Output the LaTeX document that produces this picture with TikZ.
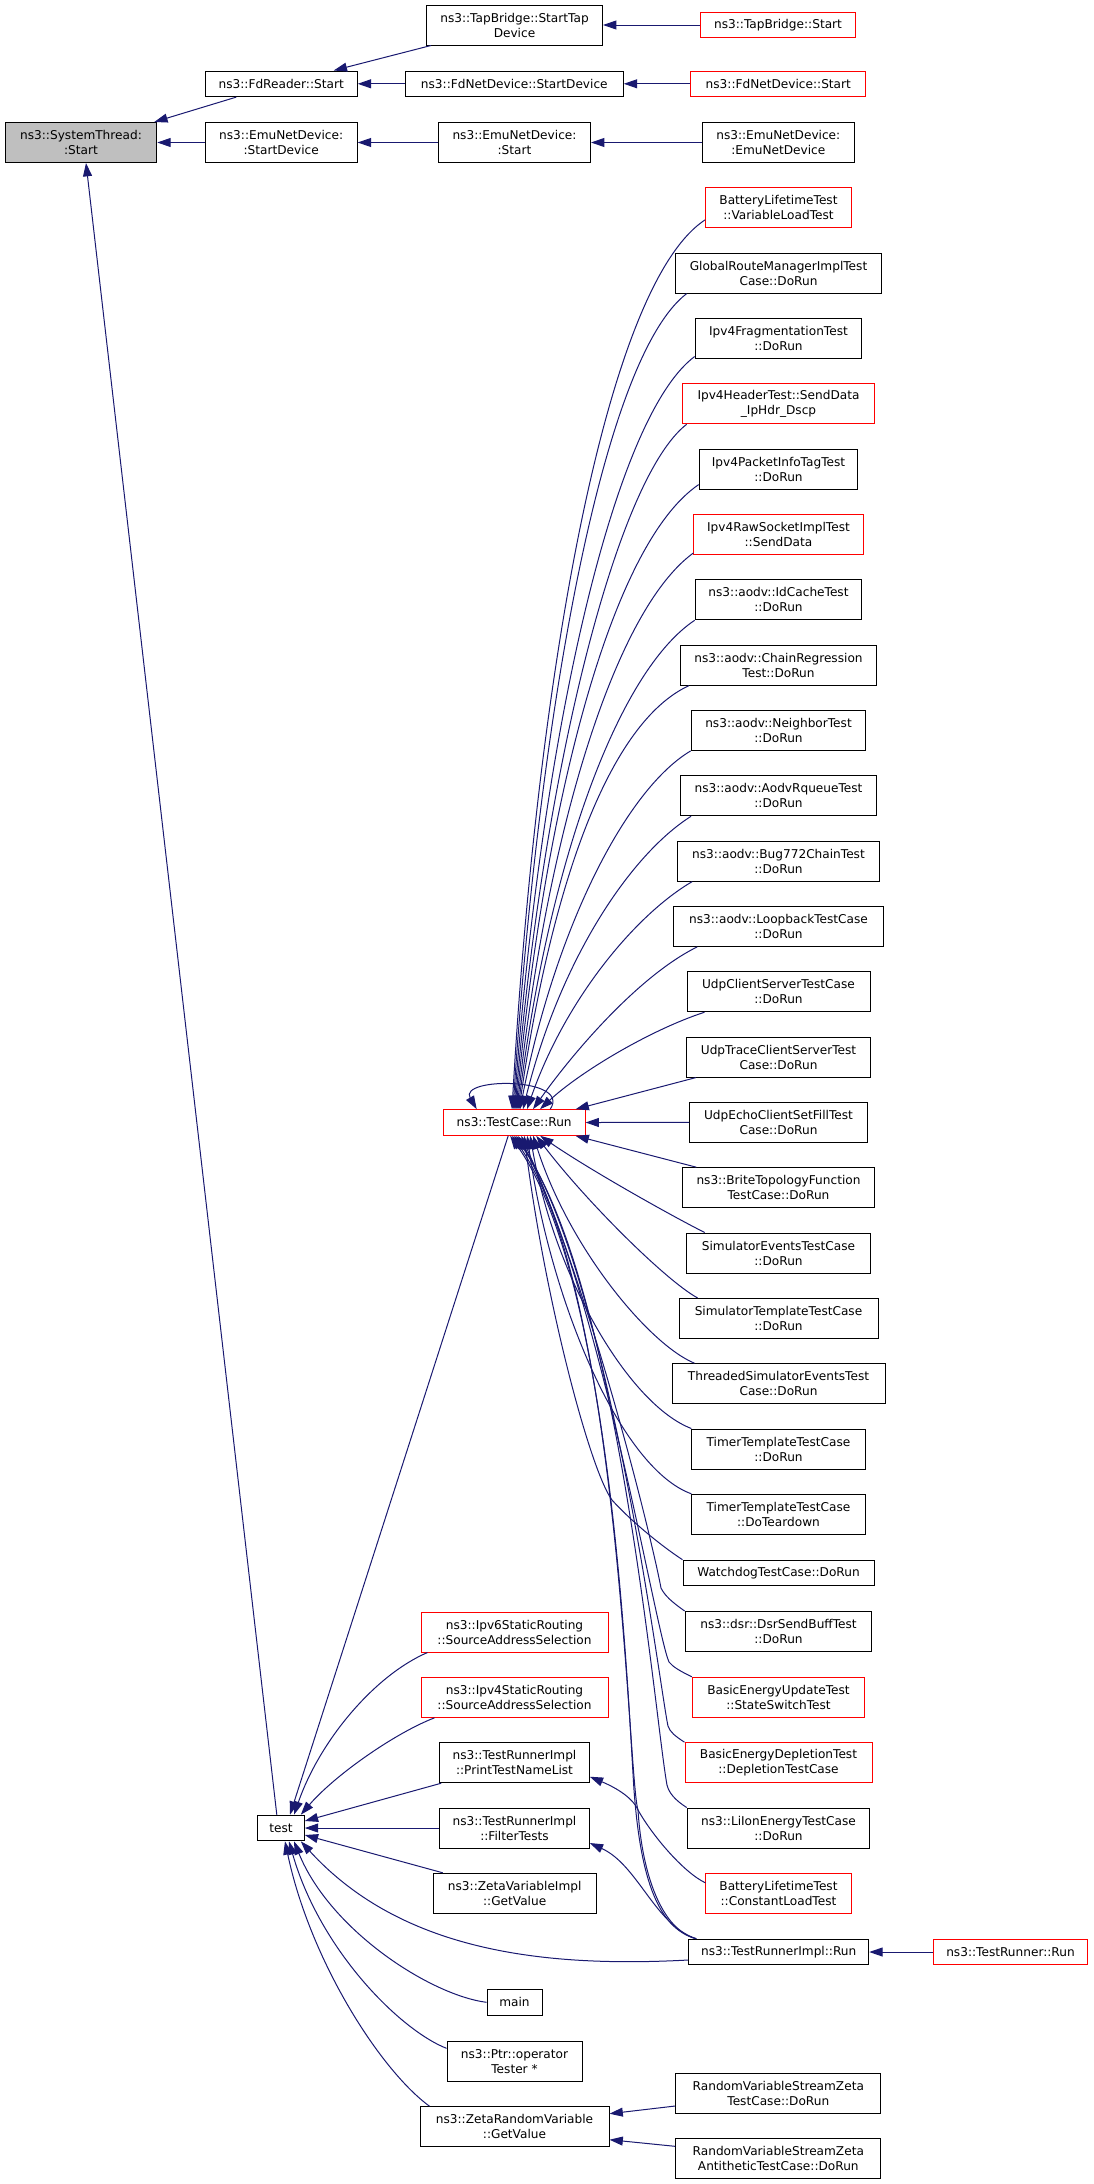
\documentclass[tikz,border=0pt]{standalone}
\usepackage{fontspec}
\setmainfont{DejaVu Sans}
\usetikzlibrary{arrows.meta,calc}
\definecolor{edgeblue}{RGB}{25,25,112}
\definecolor{nodegray}{RGB}{191,191,191}
\begin{document}
\begin{tikzpicture}[x=0.75pt,y=-0.75pt,
  nbox/.style={draw=black, fill=white, line width=0.75pt, inner xsep=1pt, inner ysep=0pt, align=center, font=\fontsize{9.1}{11.25}\selectfont},
  two/.style={nbox, minimum height=30pt},
  one/.style={nbox, minimum height=19.2pt},
  redb/.style={draw=red},
  wd/.style={minimum width=#1*0.75pt},
  ed/.style={draw=edgeblue, line width=0.75pt, -{Triangle[length=10pt,width=6.7pt]}},
]
\useasboundingbox (0,0) rectangle (1093,2184);
% top part
\node[two,fill=nodegray,wd=151.5] (sys) at (81,142.5) {ns3::SystemThread:\\:Start};
\node[one,wd=152] (fdr) at (281.2,83.8) {ns3::FdReader::Start};
\node[two,wd=152] (emusd) at (281.2,142.5) {ns3::EmuNetDevice:\\:StartDevice};
\node[two,wd=176] (tapsd) at (514.5,25) {ns3::TapBridge::StartTap\\Device};
\node[one,wd=218] (fdnsd) at (514.3,83.8) {ns3::FdNetDevice::StartDevice};
\node[two,wd=152] (emus) at (514.5,142.5) {ns3::EmuNetDevice:\\:Start};
\node[one,redb,wd=155] (taps) at (778,25) {ns3::TapBridge::Start};
\node[one,redb,wd=175] (fdns) at (778.3,83.8) {ns3::FdNetDevice::Start};
\node[two,wd=152] (emuemu) at (778.3,142.5) {ns3::EmuNetDevice:\\:EmuNetDevice};
% right column
\node[two,redb,wd=145.6] (r0) at (778.5,207.8) {BatteryLifetimeTest\\::VariableLoadTest};
\node[two,wd=206.7] (r1) at (778.5,273.1) {GlobalRouteManagerImplTest\\Case::DoRun};
\node[two,wd=166.7] (r2) at (778.5,338.5) {Ipv4FragmentationTest\\::DoRun};
\node[two,redb,wd=192] (r3) at (778.5,403.8) {Ipv4HeaderTest::SendData\\\_IpHdr\_Dscp};
\node[two,wd=158.7] (r4) at (778.5,469.1) {Ipv4PacketInfoTagTest\\::DoRun};
\node[two,redb,wd=169.3] (r5) at (778.5,534.5) {Ipv4RawSocketImplTest\\::SendData};
\node[two,wd=166.7] (r6) at (778.5,599.8) {ns3::aodv::IdCacheTest\\::DoRun};
\node[two,wd=196] (r7) at (778.5,665.1) {ns3::aodv::ChainRegression\\Test::DoRun};
\node[two,wd=174.7] (r8) at (778.5,730.4) {ns3::aodv::NeighborTest\\::DoRun};
\node[two,wd=196] (r9) at (778.5,795.8) {ns3::aodv::AodvRqueueTest\\::DoRun};
\node[two,wd=201.6] (r10) at (778.5,861.1) {ns3::aodv::Bug772ChainTest\\::DoRun};
\node[two,wd=209.6] (r11) at (778.5,926.4) {ns3::aodv::LoopbackTestCase\\::DoRun};
\node[two,wd=183] (r12) at (778.5,991.7) {UdpClientServerTestCase\\::DoRun};
\node[two,wd=184.4] (r13) at (778.5,1057.1) {UdpTraceClientServerTest\\Case::DoRun};
\node[two,wd=178] (r14) at (778.5,1122.4) {UdpEchoClientSetFillTest\\Case::DoRun};
\node[two,wd=191.3] (r15) at (778.5,1187.7) {ns3::BriteTopologyFunction\\TestCase::DoRun};
\node[two,wd=184.7] (r16) at (778.5,1253) {SimulatorEventsTestCase\\::DoRun};
\node[two,wd=199] (r17) at (778.5,1318.4) {SimulatorTemplateTestCase\\::DoRun};
\node[two,wd=213] (r18) at (778.5,1383.7) {ThreadedSimulatorEventsTest\\Case::DoRun};
\node[two,wd=173.3] (r19) at (778.5,1449) {TimerTemplateTestCase\\::DoRun};
\node[two,wd=173.3] (r20) at (778.5,1514.3) {TimerTemplateTestCase\\::DoTeardown};
\node[one,wd=191] (r21) at (778.5,1573) {WatchdogTestCase::DoRun};
\node[two,wd=186.7] (r22) at (778.5,1631.5) {ns3::dsr::DsrSendBuffTest\\::DoRun};
\node[two,redb,wd=172.4] (r23) at (778.5,1697.3) {BasicEnergyUpdateTest\\::StateSwitchTest};
\node[two,redb,wd=187] (r24) at (778.5,1762.7) {BasicEnergyDepletionTest\\::DepletionTestCase};
\node[two,wd=182.7] (r25) at (778.5,1828) {ns3::LiIonEnergyTestCase\\::DoRun};
\node[two,redb,wd=145.3] (r26) at (778.5,1893.3) {BatteryLifetimeTest\\::ConstantLoadTest};
\node[one,wd=180] (trir) at (778.7,1952) {ns3::TestRunnerImpl::Run};
\node[one,redb,wd=154.4] (trr) at (1010.5,1952) {ns3::TestRunner::Run};
\node[two,wd=205.3] (rvsz1) at (778.3,2093) {RandomVariableStreamZeta\\TestCase::DoRun};
\node[two,wd=205.3] (rvsz2) at (778.3,2158.3) {RandomVariableStreamZeta\\AntitheticTestCase::DoRun};
% middle column
\node[one,redb,wd=141.7] (tcr) at (514.2,1122.5) {ns3::TestCase::Run};
\node[two,redb,wd=187] (ipv6) at (514.5,1632) {ns3::Ipv6StaticRouting\\::SourceAddressSelection};
\node[two,redb,wd=187] (ipv4) at (514.5,1697.3) {ns3::Ipv4StaticRouting\\::SourceAddressSelection};
\node[two,wd=149.6] (ptnl) at (514.5,1762.7) {ns3::TestRunnerImpl\\::PrintTestNameList};
\node[two,wd=149.6] (ft) at (514.5,1828) {ns3::TestRunnerImpl\\::FilterTests};
\node[two,wd=162.7] (zvi) at (514.7,1893.3) {ns3::ZetaVariableImpl\\::GetValue};
\node[one,wd=55] (main) at (514.5,2002.3) {main};
\node[two,wd=135] (ptr) at (514.5,2061.3) {ns3::Ptr::operator\\Tester *};
\node[two,wd=189] (zrv) at (514.5,2126.7) {ns3::ZetaRandomVariable\\::GetValue};
\node[one,wd=46.6] (test) at (281,1828) {test};

% top edges
\draw[ed] ($(fdr.south west)+(31.6,0)$) -- ($(sys.north east)+(-3,0)$);
\draw[ed] (emusd.west) -- (sys.east);
\draw[ed] ($(tapsd.south west)+(5,0)$) -- ($(fdr.north east)+(-24,0)$);
\draw[ed] (fdnsd.west) -- (fdr.east);
\draw[ed] (emus.west) -- (emusd.east);
\draw[ed] (taps.west) -- (tapsd.east);
\draw[ed] (fdns.west) -- (fdnsd.east);
\draw[ed] (emuemu.west) -- (emus.east);
\draw[ed] ($(test.north west)+(19.6,0)$) -- ($(sys.south)+(5,0)$);

% TestCase::Run self loop
\draw[ed] ($(tcr.north)+(36,0)$) .. controls (572,1077) and (458,1077) .. ($(tcr.north)+(-37.5,0)$);
% upper rows
\draw[ed] ($(r0.south west)+(0,-8.5)$) .. controls (601,288) and (535,705) .. ($(tcr.north)+(-2.2,0)$);
\draw[ed] ($(r1.south west)+(12,0)$) .. controls (600,360) and (537.5,730) .. ($(tcr.north)+(-1.2,0)$);
\draw[ed] ($(r2.south west)+(0,-2.5)$) .. controls (610,420) and (540,755) .. ($(tcr.north)+(-0.2,0)$);
\draw[ed] ($(r3.south west)+(4.6,0)$) .. controls (615,480) and (542.5,780) .. ($(tcr.north)+(0.8,0)$);
\draw[ed] ($(r4.south west)+(0,-5)$) .. controls (610,545) and (545,805) .. ($(tcr.north)+(1.8,0)$);
\draw[ed] ($(r5.south west)+(0,-2)$) .. controls (615,610) and (547.5,830) .. ($(tcr.north)+(2.8,0)$);
\draw[ed] (r6.south west) .. controls (620,670) and (550,855) .. ($(tcr.north)+(3.8,0)$);
\draw[ed] ($(r7.south west)+(9,0)$) .. controls (610,722) and (552.5,880) .. ($(tcr.north)+(4.8,0)$);
\draw[ed] (r8.south west) .. controls (625,790) and (555,930) .. ($(tcr.north)+(5.8,0)$);
\draw[ed] ($(r9.south west)+(11,0)$) .. controls (630,855) and (560,960) .. ($(tcr.north)+(8.8,0)$);
\draw[ed] ($(r10.south west)+(15,0)$) .. controls (635,915) and (565,1000) .. ($(tcr.north)+(12.8,0)$);
\draw[ed] ($(r11.south west)+(24,0)$) .. controls (640,975) and (575,1050) .. ($(tcr.north)+(18.8,0)$);
\draw[ed] ($(r12.south west)+(18,0)$) .. controls (650,1030) and (580,1072) .. ($(tcr.north)+(25.8,0)$);
\draw[ed] ($(r13.south west)+(10,0)$) -- ($(tcr.north east)+(-10,0)$);
\draw[ed] (r14.west) -- (tcr.east);
\draw[ed] ($(r15.north west)+(14,0)$) -- ($(tcr.south east)+(-10,0)$);
% lower rows
\draw[ed] ($(r16.north west)+(19,0)$) .. controls (670,1215) and (590,1170) .. ($(tcr.south)+(26,0)$);
\draw[ed] ($(r17.north west)+(19,0)$) .. controls (665,1280) and (585,1200) .. ($(tcr.south)+(22,0)$);
\draw[ed] ($(r18.north west)+(23,0)$) .. controls (650,1345) and (570,1250) .. ($(tcr.south)+(19,0)$);
\draw[ed] (r19.north west) .. controls (630,1405) and (555,1280) .. ($(tcr.south)+(16,0)$);
\draw[ed] (r20.north west) .. controls (620,1468) and (550,1300) .. ($(tcr.south)+(13,0)$);
\draw[ed] (r21.north west) .. controls (660,1545) and (630,1520) .. (612,1500) .. controls (590,1470) and (545,1300) .. ($(tcr.south)+(10,0)$);
\draw[ed] (r22.north west) .. controls (672,1602) and (665,1596) .. (661,1588) .. controls (650,1530) and (590,1290) .. ($(tcr.south)+(7,0)$);
\draw[ed] (r23.north west) .. controls (680,1671) and (673,1667) .. (669,1662) .. controls (655,1630) and (600,1290) .. ($(tcr.south)+(4,0)$);
\draw[ed] (r24.north west) .. controls (675,1736) and (670,1732) .. (668,1726) .. controls (660,1690) and (610,1280) .. ($(tcr.south)+(2,0)$);
\draw[ed] (r25.north west) .. controls (675,1800) and (669,1793) .. (667,1785) .. controls (655,1720) and (618,1280) .. (tcr.south);
\draw[ed] ($(r26.north west)+(0,10)$) .. controls (683,1872) and (652,1835) .. (638,1810) .. controls (628,1780) and (620,1290) .. ($(tcr.south)+(-2,0)$);
\draw[ed] ($(trir.north west)+(8,0)$) .. controls (655,1928) and (640,1870) .. (634,1790) .. controls (628,1700) and (612,1280) .. ($(tcr.south)+(-4,0)$);
\draw[ed] ($(trir.north west)+(8,0)$) .. controls (662,1930) and (642,1875) .. (638,1810) .. controls (632,1796) and (612,1786) .. ($(ptnl.east)+(0,14)$);
\draw[ed] ($(trir.north west)+(8,0)$) .. controls (655,1925) and (638,1865) .. ($(ft.east)+(0,15)$);
\draw[ed] (trr.west) -- (trir.east);
% test callers
\draw[ed] ($(tcr.south)+(-6,0)$) -- ($(test.north)+(9,0)$);
\draw[ed] ($(ipv6.south west)+(7,0)$) .. controls (375,1675) and (320,1740) .. ($(test.north)+(13,0)$);
\draw[ed] ($(ipv4.south west)+(14,0)$) .. controls (395,1733) and (335,1775) .. ($(test.north east)+(-4,0)$);
\draw[ed] ($(ptnl.south west)+(2,0)$) -- ($(test.east)+(0,-7)$);
\draw[ed] (ft.west) -- (test.east);
\draw[ed] ($(zvi.north west)+(10,0)$) -- ($(test.east)+(0,7)$);
\draw[ed] ($(trir.west)+(0,8)$) .. controls (540,1968) and (400,1950) .. ($(test.south east)+(-4,0)$);
\draw[ed] (main.west) .. controls (430,1995) and (330,1930) .. ($(test.south)+(13,0)$);
\draw[ed] ($(ptr.west)+(0,-13)$) .. controls (400,2030) and (320,1950) .. ($(test.south)+(8,0)$);
\draw[ed] ($(zrv.north west)+(10,0)$) .. controls (380,2070) and (310,1960) .. ($(test.south)+(4,0)$);
% zeta
\draw[ed] ($(rvsz1.west)+(0,13)$) -- ($(zrv.east)+(0,-13)$);
\draw[ed] ($(rvsz2.west)+(0,-12)$) -- ($(zrv.east)+(0,13)$);
\end{tikzpicture}
\end{document}
